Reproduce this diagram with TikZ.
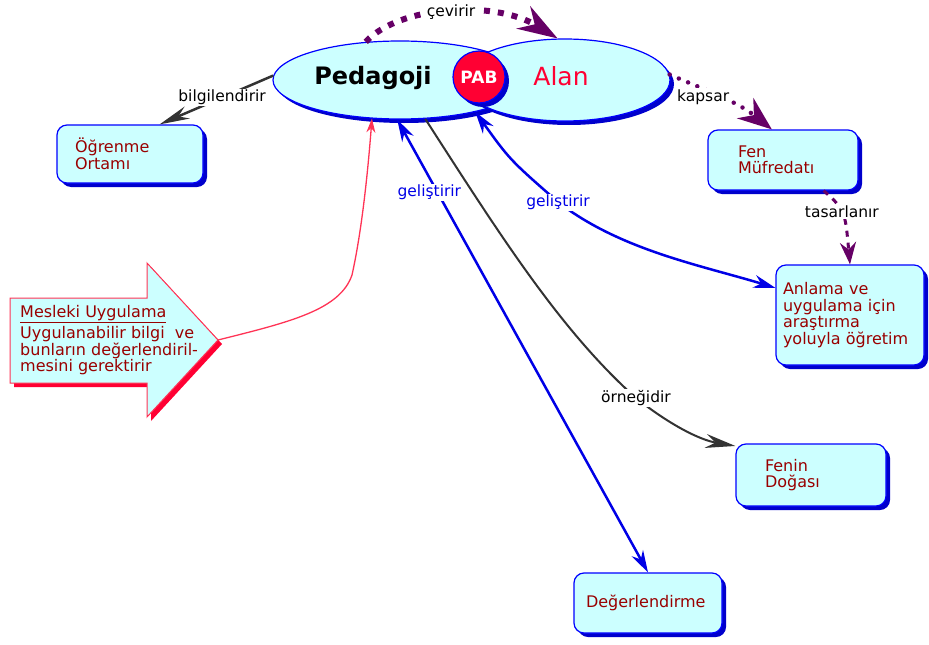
\documentclass[tikz,border=0pt]{standalone}
\usepackage{fontspec}
\setmainfont{DejaVu Sans}
\usetikzlibrary{arrows.meta,shapes.geometric,shadows}
\definecolor{fillcyan}{HTML}{CCFFFF}
\definecolor{lineblue}{HTML}{0000FF}
\definecolor{shadeblue}{HTML}{0000CC}
\definecolor{textred}{HTML}{990000}
\definecolor{alanred}{HTML}{FF0033}
\definecolor{linkpurple}{HTML}{660066}
\definecolor{linkgray}{HTML}{333333}
\definecolor{linkblue}{HTML}{0000E6}
\definecolor{linkred}{HTML}{FF3355}
\newcommand\boxfont{\fontsize{16}{16.5}\selectfont}
\newcommand\lblfont{\fontsize{15.5}{16}\selectfont}

\begin{document}
\begin{tikzpicture}[x=1pt, y=-1pt,
  bshadow/.style={drop shadow={shadow xshift=4pt, shadow yshift=-4pt, fill=shadeblue, opacity=1}},
  blob/.style={ellipse, draw=lineblue, line width=1.2pt, fill=fillcyan, inner sep=0pt, bshadow},
  concept/.style={draw=lineblue, line width=1.2pt, fill=fillcyan, rounded corners=10pt, text=textred, font=\boxfont, align=left, inner ysep=0pt, bshadow},
  lbl/.style={font=\lblfont, text=black, fill=white, inner sep=1pt}]
	\useasboundingbox (0,0) rectangle (929,645);
	\node[blob, minimum width=254pt, minimum height=78pt] (ped) at (400,80) {};
	\node[blob, minimum width=210pt, minimum height=82pt] (alan) at (565,80) {};
	\node[circle, draw=lineblue, line width=1.2pt, fill=alanred, minimum size=52pt, inner sep=0pt, bshadow, text=white, font=\bfseries\fontsize{17}{17}\selectfont] (pab) at (479,77) {PAB};
	\node[font=\bfseries\fontsize{24}{24}\selectfont] (pedtxt) at (373,78) {Pedagoji};
	\node[font=\fontsize{25}{25}\selectfont, text=alanred] (alantxt) at (561,76) {Alan};
	\node[concept, text width=110pt, inner xsep=18pt, minimum height=58pt] (ogr) at (130,154) {Öğrenme\\Ortamı};
	\node[concept, text width=90pt, inner xsep=30pt, minimum height=60pt] (fen) at (783,160) {Fen\\Müfredatı};
	\node[concept, text width=134pt, inner xsep=7pt, minimum height=100pt] (anl) at (850,315) {Anlama ve\\uygulama için\\araştırma\\yoluyla öğretim};
	\node[concept, text width=92pt, inner xsep=29pt, minimum height=62pt] (fnd) at (811,475) {Fenin\\Doğası};
	\node[concept, text width=124pt, inner xsep=12pt, minimum height=60pt] (deg) at (648,603) {Değerlendirme};
	\draw[linkred, line width=1pt, fill=fillcyan, drop shadow={shadow xshift=4pt, shadow yshift=-4pt, fill=alanred, opacity=1}] (10,298) -- (147,298) -- (147,263) -- (218,340) -- (147,417) -- (147,383) -- (10,383) -- cycle;
	\node[anchor=north west, align=left, text=textred, font=\boxfont, inner sep=0pt] (mesl) at (20,305) {\underline{Mesleki Uygulama}\\[3pt]Uygulanabilir bilgi~ ve\\bunların değerlendiril-\\mesini gerektirir};
	\coordinate (mtip) at (218,340);
	\draw[linkpurple, line width=6pt, dash pattern=on 6pt off 8pt, -{Stealth[length=40pt, width=26pt]}] (ped.132) .. controls (400,5) and (495,0) .. (alan.100) node[lbl, midway, inner xsep=6pt] {çevirir};
	\draw[linkpurple, line width=4.5pt, line cap=round, dash pattern=on 0pt off 10pt, -{Stealth[length=34pt, width=26pt]}] (alan.3) .. controls (700,88) and (735,100) .. (fen.110) node[lbl, pos=0.35, yshift=-8pt] {kapsar};
	\draw[linkpurple, line width=3pt, dash pattern=on 6pt off 6pt, -{Stealth[length=22pt, width=16pt]}] (fen.-37) .. controls (845,210) .. (anl.north) node[lbl, pos=0.45] {tasarlanır};
	\draw[linkgray, line width=2.5pt, -{Stealth[length=30pt, width=13pt]}] (ped.178) -- (ogr.45) node[lbl, pos=0.45] {bilgilendirir};
	\draw[linkblue, line width=2.5pt, {Stealth[length=22pt, width=13pt]}-{Stealth[length=22pt, width=13pt]}] (ped.-94) -- (deg.north) node[lbl, text=linkblue, pos=0.16, xshift=-8pt] {geliştirir};
	\draw[linkblue, line width=2.5pt, {Stealth[length=22pt, width=13pt]}-{Stealth[length=22pt, width=13pt]}] (ped.-23) .. controls (510,160) .. (558,202) node[lbl, text=linkblue] {geliştirir} .. controls (620,250) and (700,265) .. (anl.160);
	\draw[linkgray, line width=2pt, -{Stealth[length=30pt, width=14pt]}] (ped.-57) .. controls (500,235) and (560,330) .. (636,398) node[lbl] {örneğidir} .. controls (670,425) and (700,440) .. (fnd.159);
	\draw[linkred, line width=1.3pt, -{Stealth[length=14pt, width=9pt]}] (mtip) .. controls (290,322) and (340,310) .. (352,275) .. controls (362,230) and (368,170) .. (ped.-126);
\end{tikzpicture}
\end{document}
